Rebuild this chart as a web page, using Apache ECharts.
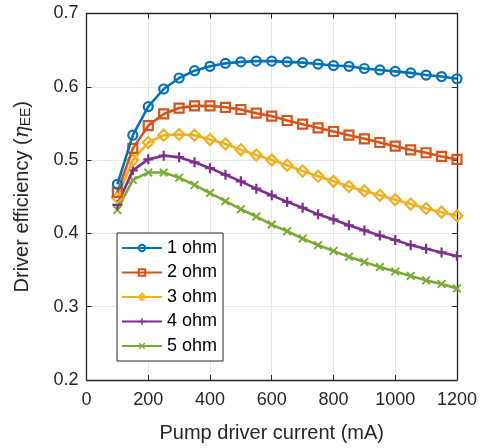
<!DOCTYPE html>
<html><head><meta charset="utf-8">
<script src="https://cdn.jsdelivr.net/npm/echarts@6/dist/echarts.min.js"></script>
<style>html,body{margin:0;padding:0;background:#fff}#c{width:480px;height:448px}</style>
</head><body><div id="c"></div>
<script>
const currents = [100,150,200,250,300,350,400,450,500,550,600,650,700,750,800,850,900,950,1000,1050,1100,1150,1200];
const ohm1 = [0.467,0.534,0.573,0.597,0.612,0.622,0.628,0.632,0.634,0.635,0.635,0.634,0.633,0.631,0.629,0.628,0.625,0.623,0.621,0.619,0.616,0.614,0.611];
const ohm2 = [0.456,0.516,0.547,0.563,0.571,0.574,0.574,0.572,0.569,0.564,0.560,0.554,0.549,0.544,0.539,0.534,0.529,0.524,0.519,0.514,0.510,0.505,0.501];
const ohm3 = [0.449,0.500,0.524,0.534,0.535,0.534,0.528,0.522,0.514,0.507,0.500,0.493,0.485,0.478,0.471,0.464,0.458,0.452,0.446,0.440,0.434,0.429,0.424];
const ohm4 = [0.439,0.486,0.501,0.506,0.504,0.497,0.489,0.480,0.471,0.461,0.452,0.443,0.435,0.426,0.419,0.411,0.404,0.397,0.391,0.384,0.379,0.374,0.369];
const ohm5 = [0.432,0.473,0.483,0.483,0.476,0.466,0.455,0.444,0.433,0.423,0.412,0.403,0.393,0.384,0.376,0.368,0.361,0.354,0.348,0.342,0.336,0.331,0.325];
const seriesNames = ['1 ohm','2 ohm','3 ohm','4 ohm','5 ohm'];
const xTicks = [0,200,400,600,800,1000,1200];
const yTicks = [0.2,0.3,0.4,0.5,0.6,0.7];

const colors = ['#0072BD','#D95319','#EDB120','#7E2F8E','#77AC30'];
const plusPath = 'path://M3.9,0h2.2v3.9h3.9v2.2h-3.9v3.9h-2.2v-3.9h-3.9v-2.2h3.9z';
const xPath = 'path://M1.5,0L5,3.5L8.5,0L10,1.5L6.5,5L10,8.5L8.5,10L5,6.5L1.5,10L0,8.5L3.5,5L0,1.5z';
const symbols = ['circle','rect','diamond',plusPath,xPath];
const sizes = [9,9,11,10,9];
const all = [ohm1,ohm2,ohm3,ohm4,ohm5];
const font = 'Liberation Sans, Arial, Helvetica, sans-serif';

const series = all.map((d,i)=>{
  const filled = i>=3;
  return {
    name: seriesNames[i], type:'line',
    data: currents.map((x,j)=>[x,d[j]]),
    symbol: symbols[i], symbolSize: sizes[i],
    showAllSymbol: true,
    lineStyle:{color:colors[i], width:2.6},
    itemStyle: filled ? {color:colors[i], borderWidth:0} : {color:'rgba(255,255,255,0)', borderColor:colors[i], borderWidth:2.2},
    emphasis:{disabled:true},
    animation:false, z: 2+ (5-i)
  };
});

const tickStyle = {inside:true, length:5, lineStyle:{color:'#262626'}};
const chart = echarts.init(document.getElementById('c'), null, {renderer:'canvas'});
chart.setOption({
  backgroundColor:'#fff',
  animation:false,
  grid:{left:86.5, right:22, top:13.5, bottom:63.5, show:false},
  xAxis:[{type:'value', min:0, max:1200, interval:200,
    name:'Pump driver current (mA)', nameLocation:'middle', nameGap:43,
    nameTextStyle:{fontFamily:font, fontSize:20, color:'#262626'},
    axisLine:{onZero:false, lineStyle:{color:'#262626', width:1.3}},
    axisTick:tickStyle,
    axisLabel:{fontFamily:font, fontSize:18, color:'#262626', margin:11, formatter:v=>String(v)},
    splitLine:{show:true, lineStyle:{color:'#e6e6e6', width:1}}
  },{type:'value', position:'top', min:0, max:1200, interval:200,
    axisLine:{show:true, onZero:false, lineStyle:{color:'#262626', width:1.3}},
    axisTick:tickStyle, axisLabel:{show:false}, splitLine:{show:false}}],
  yAxis:[{type:'value', min:0.2, max:0.7, interval:0.1,
    name:'{a|Driver efficiency (}{i|η}{s|EE}{a|)}', nameLocation:'middle', nameGap:53, nameRotate:90,
    nameTextStyle:{fontFamily:font, fontSize:20, color:'#262626',
      rich:{a:{fontFamily:font, fontSize:20, color:'#262626'},
            i:{fontFamily:'DejaVu Serif, serif', fontStyle:'italic', fontSize:20, color:'#262626'},
            s:{fontFamily:font, fontSize:14, color:'#262626', verticalAlign:'bottom', padding:[8,0,0,0]}}},
    axisLine:{onZero:false, lineStyle:{color:'#262626', width:1.3}},
    axisTick:tickStyle,
    axisLabel:{fontFamily:font, fontSize:18, color:'#262626', margin:8, formatter:v=>v.toFixed(1)},
    splitLine:{show:true, lineStyle:{color:'#e6e6e6', width:1}}
  },{type:'value', position:'right', min:0.2, max:0.7, interval:0.1,
    axisLine:{show:true, onZero:false, lineStyle:{color:'#262626', width:1.3}},
    axisTick:tickStyle, axisLabel:{show:false}, splitLine:{show:false}}],
  legend:{
    orient:'vertical', left:117, top:233,
    data: seriesNames,
    backgroundColor:'#fff', borderColor:'#262626', borderWidth:1,
    padding:[6,6,6,4], itemGap:6.5, itemWidth:40, itemHeight:8,
    textStyle:{fontFamily:font, fontSize:18, color:'#000'},
    selectedMode:false
  },
  series: series
});
</script></body></html>
